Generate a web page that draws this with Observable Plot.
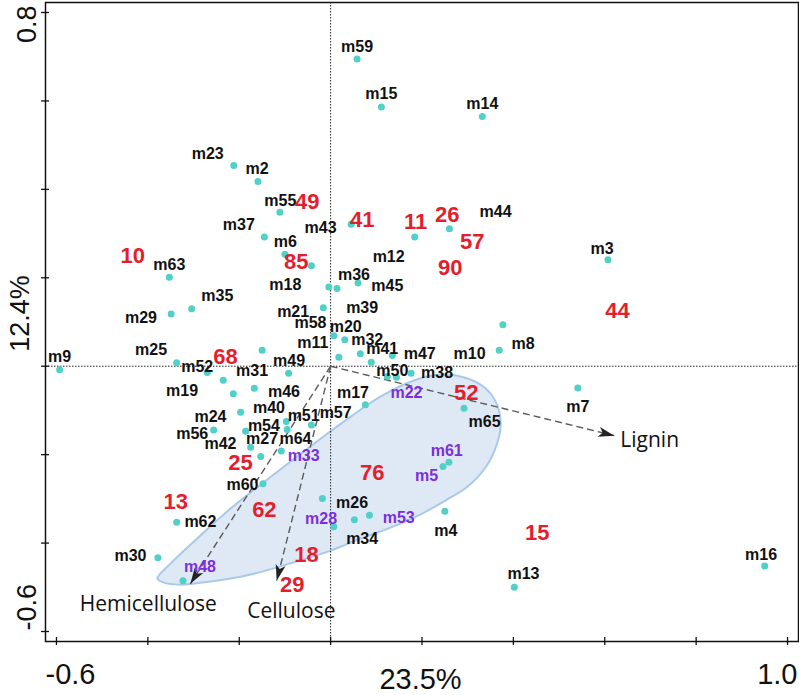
<!DOCTYPE html>
<html><head><meta charset="utf-8">
<script src="https://cdn.jsdelivr.net/npm/d3@7"></script>
<script src="https://cdn.jsdelivr.net/npm/@observablehq/plot@0.6"></script>
<style>body{margin:0;background:#fff}</style>
</head><body><div id="chart"></div>
<script>
// ---- axes ----
const xDomain = [-0.624, 1.024];
const yDomain = [-0.6226, 0.8226];
const xTicks = [-0.6, -0.4, -0.2, 0, 0.2, 0.4, 0.6, 0.8, 1.0];
const yTicks = [-0.6, -0.4, -0.2, 0, 0.2, 0.4, 0.6, 0.8];
const xTickLabels = ["-0.6", "1.0"];
const yTickLabels = ["-0.6", "0.8"];
const xTitle = "23.5%";
const yTitle = "12.4%";

// ---- species scores (dots) ----
const dotX = [0.058,0.111,0.332,-0.212,-0.159,-0.111,0.045,0.184,0.260,-0.145,-0.100,-0.042,0.607,-0.353,-0.004,0.014,0.060,-0.304,-0.349,-0.016,0.007,0.031,0.018,0.065,0.089,0.135,0.369,0.377,0.124,0.144,0.176,-0.593,-0.337,-0.150,-0.270,-0.235,-0.092,-0.167,-0.213,-0.197,-0.097,-0.042,-0.256,-0.186,-0.095,-0.175,-0.108,-0.153,-0.148,-0.337,-0.378,-0.323,0.007,-0.018,0.052,0.085,0.076,0.292,0.259,0.246,0.250,0.541,0.950,0.402];
const dotY = [0.695,0.586,0.565,0.454,0.418,0.348,0.321,0.292,0.311,0.292,0.253,0.227,0.241,0.201,0.179,0.176,0.188,0.130,0.118,0.132,0.069,0.060,0.020,0.028,0.009,0.024,0.036,0.094,-0.023,-0.025,-0.016,-0.008,0.008,0.036,-0.014,-0.032,-0.016,-0.050,-0.062,-0.104,-0.125,-0.133,-0.144,-0.147,-0.143,-0.183,-0.192,-0.204,-0.266,-0.353,-0.433,-0.485,-0.363,-0.299,-0.347,-0.337,-0.087,-0.095,-0.217,-0.227,-0.328,-0.049,-0.452,-0.500];

// ---- species labels (black) ----
const spNames = ["m59","m15","m14","m23","m2","m55","m43","m12","m44","m37","m6","m3","m63","m36","m45","m18","m35","m29","m21","m39","m58","m20","m32","m11","m41","m47","m10","m8","m9","m25","m49","m52","m31","m50","m38","m19","m46","m17","m24","m40","m51","m57","m65","m56","m54","m27","m64","m42","m7","m60","m62","m26","m34","m4","m30","m16","m13"];
const spX = [0.058,0.111,0.332,-0.269,-0.161,-0.110,-0.022,0.127,0.361,-0.201,-0.099,0.594,-0.353,0.051,0.124,-0.099,-0.248,-0.415,-0.082,0.069,-0.044,0.033,0.080,-0.039,0.113,0.195,0.304,0.421,-0.593,-0.393,-0.091,-0.292,-0.172,0.135,0.233,-0.325,-0.102,0.049,-0.263,-0.135,-0.059,0.011,0.337,-0.303,-0.146,-0.150,-0.077,-0.241,0.541,-0.193,-0.285,0.047,0.069,0.252,-0.438,0.942,0.422];
const spY = [0.722,0.615,0.594,0.480,0.447,0.375,0.312,0.248,0.350,0.320,0.282,0.266,0.230,0.207,0.181,0.184,0.160,0.109,0.124,0.133,0.098,0.090,0.060,0.053,0.039,0.028,0.029,0.051,0.020,0.036,0.011,-0.002,-0.011,-0.010,-0.016,-0.055,-0.059,-0.060,-0.114,-0.095,-0.113,-0.106,-0.127,-0.153,-0.134,-0.164,-0.164,-0.176,-0.093,-0.268,-0.351,-0.308,-0.390,-0.372,-0.430,-0.426,-0.470];

// ---- highlighted species labels (purple) ----
const hlNames = ["m22","m33","m61","m5","m28","m53","m48"];
const hlX = [0.166,-0.059,0.254,0.210,-0.021,0.149,-0.286];
const hlY = [-0.060,-0.202,-0.192,-0.247,-0.345,-0.343,-0.453];

// ---- sample labels (red) ----
const sampleNames = ["49","41","11","26","57","90","10","85","44","68","52","25","76","13","62","15","18","29"];
const sampleX = [-0.051,0.069,0.186,0.255,0.310,0.262,-0.433,-0.075,0.628,-0.230,0.297,-0.197,0.091,-0.339,-0.145,0.452,-0.053,-0.084];
const sampleY = [0.371,0.330,0.326,0.341,0.280,0.223,0.250,0.235,0.124,0.022,-0.060,-0.219,-0.241,-0.306,-0.325,-0.377,-0.427,-0.494];

// ---- environmental vectors ----
const envNames = ["Lignin","Hemicellulose","Cellulose"];
const envX = [0.621,-0.307,-0.118];
const envY = [-0.157,-0.492,-0.485];
const envLabelX = [0.634,-0.399,-0.086];
const envLabelY = [-0.168,-0.538,-0.554];

// ---- group envelope outline ----
const hullX = [-0.379,-0.350,-0.285,-0.219,-0.153,-0.088,-0.022,0.044,0.109,0.175,0.240,0.295,0.339,0.365,0.372,0.363,0.339,0.300,0.251,0.197,0.131,0.065,0.000,-0.088,-0.175,-0.263,-0.329,-0.366];
const hullY = [-0.480,-0.446,-0.383,-0.322,-0.268,-0.216,-0.164,-0.114,-0.069,-0.035,-0.019,-0.026,-0.050,-0.089,-0.134,-0.179,-0.229,-0.272,-0.304,-0.335,-0.365,-0.390,-0.417,-0.446,-0.471,-0.487,-0.494,-0.489];

const font = "Liberation Sans, Arial, sans-serif";
const envFont = "Open Sans, DejaVu Sans, sans-serif";
const hull = hullX.map((x, i) => ({x, y: hullY[i]}));
const dots = dotX.map((x, i) => ({x, y: dotY[i]}));
const sp = spNames.map((n, i) => ({n, x: spX[i], y: spY[i]}));
const hl = hlNames.map((n, i) => ({n, x: hlX[i], y: hlY[i]}));
const samples = sampleNames.map((n, i) => ({n, x: sampleX[i], y: sampleY[i]}));
const env = envNames.map((n, i) => ({n, x: envX[i], y: envY[i], lx: envLabelX[i], ly: envLabelY[i]}));

const head = (color, context) => {
  const m = d3.create("svg:marker")
    .attr("viewBox", "-17 -7 18 14")
    .attr("markerWidth", 18).attr("markerHeight", 14)
    .attr("markerUnits", "userSpaceOnUse")
    .attr("orient", "auto");
  m.append("path").attr("d", "M-16,-5L0,0L-16,5L-12,0Z")
    .attr("fill", "#222").attr("stroke", "none").attr("stroke-dasharray", "none");
  return m.node();
};

const envText = {x: "lx", y: "ly", text: "n", fontFamily: envFont, fontSize: 21, fill: "#111", lineAnchor: "middle", style: {letterSpacing: "1.3px"}};

const chart = Plot.plot({
  width: 799, height: 695,
  marginLeft: 45, marginRight: 1, marginTop: 2, marginBottom: 54,
  x: {domain: xDomain, axis: null},
  y: {domain: yDomain, axis: null},
  style: {fontFamily: font, background: "white", overflow: "visible"},
  marks: [
    Plot.line(hull, {x: "x", y: "y", curve: "catmull-rom-closed", fill: "#dfe9f5", stroke: "#a9c9e8", strokeWidth: 2}),
    Plot.ruleX([0], {stroke: "#222", strokeWidth: 1, strokeDasharray: "1.5,1.5"}),
    Plot.ruleY([0], {stroke: "#222", strokeWidth: 1, strokeDasharray: "1.5,1.5"}),
    Plot.link(env, {x1: 0, y1: 0, x2: "x", y2: "y", stroke: "#5a5a5a", strokeWidth: 1.4, strokeDasharray: "7,4", markerEnd: head}),
    Plot.text(env.filter((d) => d.n === "Lignin"), {...envText, textAnchor: "start"}),
    Plot.text(env.filter((d) => d.n !== "Lignin"), {...envText, textAnchor: "middle"}),
    Plot.dot(dots, {x: "x", y: "y", r: 3.5, fill: "#50d0c6"}),
    Plot.text(sp, {x: "x", y: "y", text: "n", fontSize: 16, fontWeight: "bold", fill: "#111"}),
    Plot.text(hl, {x: "x", y: "y", text: "n", fontSize: 16, fontWeight: "bold", fill: "#7b2fdc"}),
    Plot.text(samples, {x: "x", y: "y", text: "n", fontSize: 22, fontWeight: "bold", fill: "#e31e2d"}),
    Plot.frame({stroke: "#111", strokeWidth: 1.5}),
    Plot.ruleX(xTicks, {y1: yDomain[0], y2: yDomain[0], insetTop: -4, insetBottom: -4, stroke: "#111", strokeWidth: 1.3}),
    Plot.ruleY(yTicks, {x1: xDomain[0], x2: xDomain[0], insetLeft: -4, insetRight: -4, stroke: "#111", strokeWidth: 1.3}),
    Plot.text([xTickLabels[0]], {frameAnchor: "bottom-left", text: (d) => d, textAnchor: "start", lineAnchor: "bottom", dy: 42, fontSize: 29, fill: "#111"}),
    Plot.text([xTickLabels[1]], {frameAnchor: "bottom-right", text: (d) => d, textAnchor: "end", lineAnchor: "bottom", dy: 42, dx: -1, fontSize: 29, fill: "#111"}),
    Plot.text([xTitle], {frameAnchor: "bottom", text: (d) => d, textAnchor: "middle", lineAnchor: "bottom", dy: 47, dx: -1.5, fontSize: 29, fill: "#111"}),
    Plot.text([yTickLabels[0]], {frameAnchor: "bottom-left", text: (d) => d, rotate: -90, textAnchor: "start", lineAnchor: "bottom", dx: -10, dy: -11, fontSize: 27, fill: "#111"}),
    Plot.text([yTickLabels[1]], {frameAnchor: "top-left", text: (d) => d, rotate: -90, textAnchor: "end", lineAnchor: "bottom", dx: -10, dy: 3, fontSize: 27, fill: "#111"}),
    Plot.text([yTitle], {frameAnchor: "left", text: (d) => d, rotate: -90, textAnchor: "middle", lineAnchor: "bottom", dx: -17, dy: -8.5, fontSize: 27, fill: "#111"})
  ]
});
document.getElementById("chart").appendChild(chart);
</script>
</body></html>
